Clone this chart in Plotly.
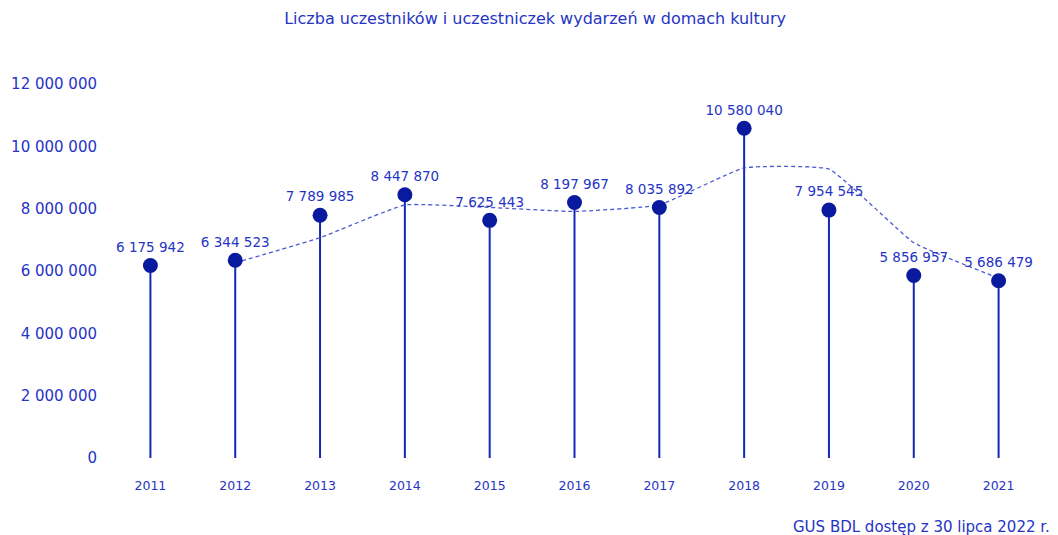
import plotly.graph_objects as go

years = ["2011", "2012", "2013", "2014", "2015", "2016", "2017", "2018", "2019", "2020", "2021"]
participants = [6175942, 6344523, 7789985, 8447870, 7625443, 8197967, 8035892, 10580040, 7954545, 5856957, 5686479]
# dashed trend line (2-period moving average)
trend_years = ["2012", "2013", "2014", "2015", "2016", "2017", "2018", "2019", "2020", "2021"]
trend_values = [6260000, 7070000, 8120000, 8040000, 7910000, 8120000, 9310000, 9270000, 6910000, 5770000]
y_ticks = [0, 2000000, 4000000, 6000000, 8000000, 10000000, 12000000]

def fmt(v):
    return f"{v:,}".replace(",", " ")

BLUE = "#1428b4"
DARK = "#0a1a9e"
TXT = "#2634c4"
FONT = "DejaVu Sans"

fig = go.Figure()

# stems
sx, sy = [], []
for x, v in zip(years, participants):
    sx += [x, x, None]
    sy += [0, v, None]
fig.add_trace(go.Scatter(x=sx, y=sy, mode="lines", line=dict(color=BLUE, width=2),
                         hoverinfo="skip", showlegend=False))

# trend
fig.add_trace(go.Scatter(x=trend_years, y=trend_values, mode="lines",
                         line=dict(color="#4a5ad0", width=1.3, dash="4px,3px", shape="spline", smoothing=0.35),
                         hoverinfo="skip", showlegend=False))

# dots + labels
fig.add_trace(go.Scatter(x=years, y=participants, mode="markers+text",
                         marker=dict(color=DARK, size=15),
                         text=[fmt(v) for v in participants], textposition="top center",
                         textfont=dict(family=FONT, size=13.5, color=TXT),
                         showlegend=False))

fig.update_layout(
    width=1050, height=527,
    margin=dict(l=99.5, r=16.5, t=76, b=77, autoexpand=False),
    paper_bgcolor="white", plot_bgcolor="white",
    title=dict(text="Liczba uczestników i uczestniczek wydarzeń w domach kultury",
               xref="container", x=0.502, xanchor="center", yref="container", y=0.981, yanchor="middle",
               font=dict(family=FONT, size=16, color=TXT)),
    font=dict(family=FONT, color=TXT),
)
fig.update_xaxes(type="category", range=[-0.5, 10.5], showgrid=False, zeroline=False, showline=False,
                 ticks="", tickfont=dict(family=FONT, size=12.5, color=TXT), ticklabelstandoff=18,
                 automargin=False)
fig.update_yaxes(range=[0, 12000000], tickvals=y_ticks, ticktext=[fmt(v) for v in y_ticks],
                 showgrid=False, zeroline=False, showline=False, ticks="",
                 tickfont=dict(family=FONT, size=15, color=TXT), ticklabelstandoff=10,
                 automargin=False)

fig.add_annotation(text="GUS BDL dostęp z 30 lipca 2022 r.", xref="paper", yref="paper",
                   x=1.0123, y=-0.1845, xanchor="right", yanchor="middle", showarrow=False,
                   font=dict(family=FONT, size=15, color=TXT))

fig.write_html("out.html")
